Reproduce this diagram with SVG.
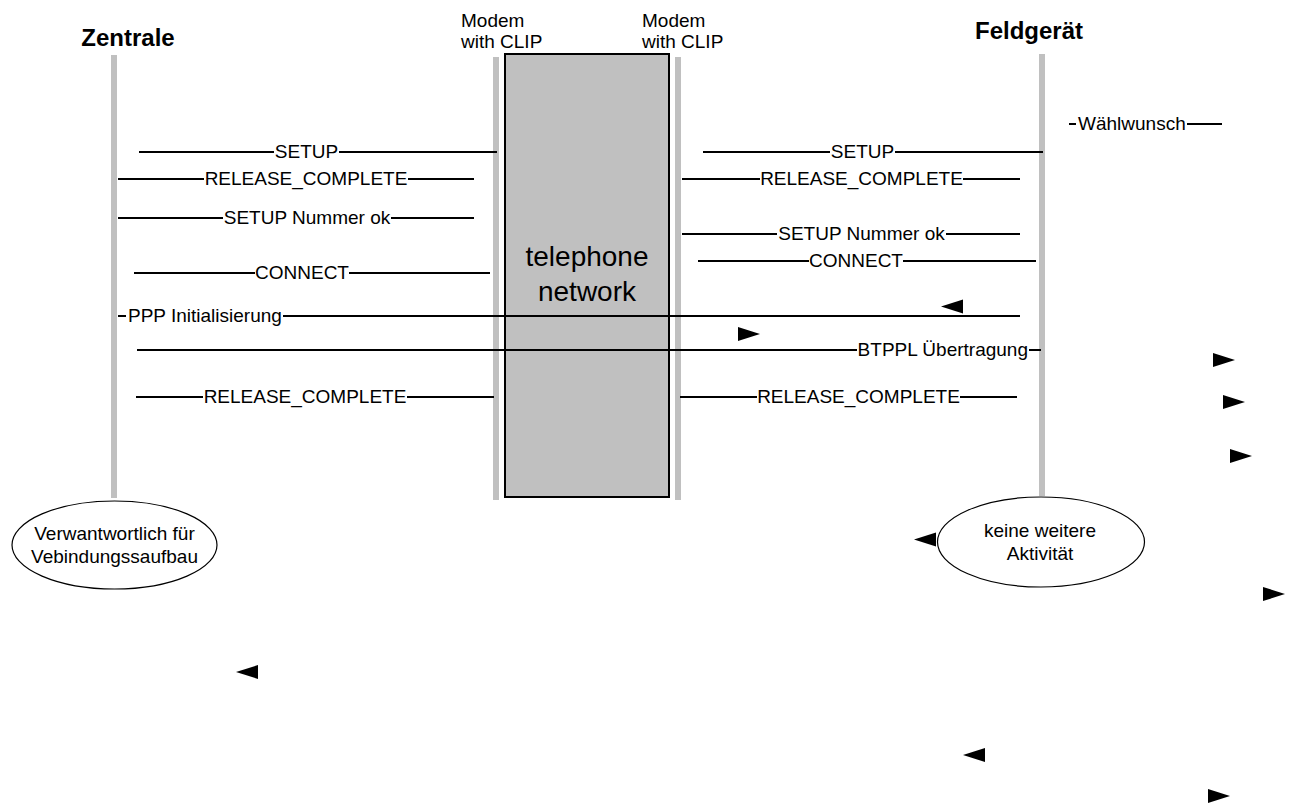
<svg xmlns="http://www.w3.org/2000/svg" width="1296" height="807" viewBox="0 0 1296 807">
<style>
.lbl{font-family:"Liberation Sans",Arial,sans-serif;font-size:19px;fill:#000}
.head{font-family:"Liberation Sans",Arial,sans-serif;font-size:24px;font-weight:bold;fill:#000}
.big{font-family:"Liberation Sans",Arial,sans-serif;font-size:28px;fill:#000}
.msg{stroke:#000;stroke-width:2;fill:none}
.life{fill:#c0c0c0}
.arr{fill:#000}
.ell{fill:#fff;stroke:#000;stroke-width:1.2}
</style>
<defs>
<polygon id="ar" points="0,-7 22,0 0,7"/>
<polygon id="al" points="22,-7 0,0 22,7"/>
</defs>
<rect width="1296" height="807" fill="#fff"/>

<g id="zentrale">
<text class="head" x="128" y="46" text-anchor="middle">Zentrale</text>
<rect class="life" x="111" y="55" width="6" height="443"/>
</g>
<g id="modem-left">
<text class="lbl" x="461" y="27">Modem</text>
<text class="lbl" x="461" y="48">with CLIP</text>
<rect class="life" x="493" y="57" width="6" height="443"/>
</g>
<g id="telephone-network">
<rect x="505" y="54" width="164" height="443" fill="#c0c0c0" stroke="#000" stroke-width="2"/>
<text class="big" x="587" y="266" text-anchor="middle">telephone</text>
<text class="big" x="587" y="301" text-anchor="middle">network</text>
</g>
<g id="modem-right">
<text class="lbl" x="642" y="27">Modem</text>
<text class="lbl" x="642" y="48">with CLIP</text>
<rect class="life" x="675" y="57" width="6" height="443"/>
</g>
<g id="feldgeraet">
<text class="head" x="1029" y="39" text-anchor="middle">Feldgerät</text>
<rect class="life" x="1039" y="54" width="6" height="442"/>
</g>

<g id="connectors">
<!-- left side -->
<path class="msg" d="M139 152H274M339 152H497"/>
<text class="lbl" x="306.5" y="158" text-anchor="middle">SETUP</text>
<path class="msg" d="M118 179H204M408 179H474"/>
<text class="lbl" x="306" y="185" text-anchor="middle">RELEASE_COMPLETE</text>
<path class="msg" d="M118 218H223M391 218H474"/>
<text class="lbl" x="307" y="224" text-anchor="middle">SETUP Nummer ok</text>
<path class="msg" d="M134 273H255M349 273H490"/>
<text class="lbl" x="302" y="279" text-anchor="middle">CONNECT</text>
<path class="msg" d="M118 316H126M283 316H1020"/>
<text class="lbl" x="128" y="322">PPP Initialisierung</text>
<path class="msg" d="M137 350H857M1029 350H1041"/>
<text class="lbl" x="1028" y="356" text-anchor="end">BTPPL Übertragung</text>
<path class="msg" d="M136 397H203M407 397H494"/>
<text class="lbl" x="305" y="403" text-anchor="middle">RELEASE_COMPLETE</text>
<!-- right side -->
<path class="msg" d="M703 152H830M895 152H1043"/>
<text class="lbl" x="862.5" y="158" text-anchor="middle">SETUP</text>
<path class="msg" d="M682 179H760M963 179H1020"/>
<text class="lbl" x="861.5" y="185" text-anchor="middle">RELEASE_COMPLETE</text>
<path class="msg" d="M682 234H777M946 234H1020"/>
<text class="lbl" x="861.5" y="240" text-anchor="middle">SETUP Nummer ok</text>
<path class="msg" d="M698 261H809M903 261H1036"/>
<text class="lbl" x="856" y="267" text-anchor="middle">CONNECT</text>
<path class="msg" d="M680 397H757M960 397H1017"/>
<text class="lbl" x="858.5" y="403" text-anchor="middle">RELEASE_COMPLETE</text>
<path class="msg" d="M1069 124H1076M1187 124H1222"/>
<text class="lbl" x="1078" y="130">Wählwunsch</text>
<!-- arrowheads -->
<use href="#al" class="arr" x="941" y="306.5"/>
<use href="#ar" class="arr" x="738" y="334"/>
<use href="#ar" class="arr" x="1213" y="360"/>
<use href="#ar" class="arr" x="1223" y="402"/>
<use href="#ar" class="arr" x="1230" y="456"/>
<use href="#al" class="arr" x="914" y="539.5"/>
<use href="#ar" class="arr" x="1263" y="594"/>
<use href="#al" class="arr" x="236" y="672"/>
<use href="#al" class="arr" x="963" y="755"/>
<use href="#ar" class="arr" x="1208" y="796"/>
</g>

<g id="note-left">
<ellipse class="ell" cx="114.5" cy="545" rx="102.5" ry="44"/>
<text class="lbl" x="114.5" y="540" text-anchor="middle">Verwantwortlich für</text>
<text class="lbl" x="114.5" y="563" text-anchor="middle">Vebindungssaufbau</text>
</g>
<g id="note-right">
<ellipse class="ell" cx="1041" cy="542" rx="103.5" ry="45"/>
<text class="lbl" x="1040" y="537" text-anchor="middle">keine weitere</text>
<text class="lbl" x="1040" y="560" text-anchor="middle">Aktivität</text>
</g>
</svg>
